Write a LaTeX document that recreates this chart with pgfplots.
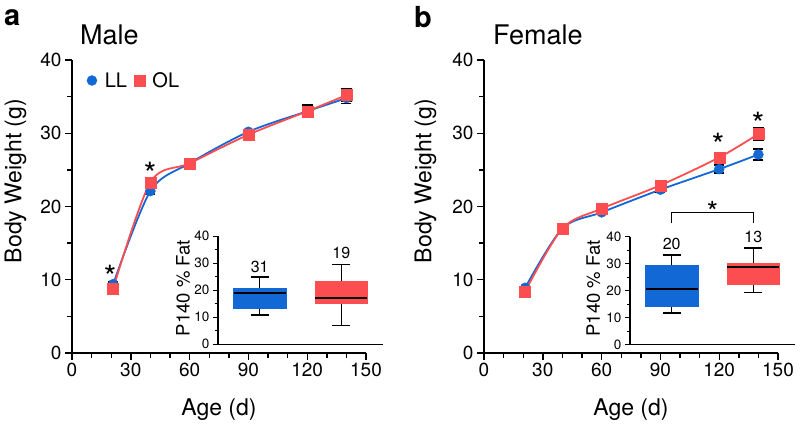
\documentclass[border=0pt]{standalone}
\usepackage{fontspec}
\setmainfont{TeX Gyre Heros}
\usepackage{pgfplots}
\pgfplotsset{compat=1.18}
\usepgfplotslibrary{statistics}

\definecolor{llblue}{RGB}{18,104,212}
\definecolor{olred}{RGB}{252,78,80}
\newcommand{\fs}[1]{\fontsize{#1bp}{#1bp}\selectfont}
\newcommand{\sig}[3][32]{\node[font=\fs{#1}, inner sep=0, anchor=base, yshift=-0.57*#1bp] at (axis cs:#2,#3) {*};}

\pgfplotsset{
  base/.style={scale only axis, axis lines=left, axis line style={-, line width=1.6bp},
    tick align=outside, tick style={black, line width=1.4bp},
    major tick length=7bp, minor tick length=5bp,
    /pgf/number format/assume math mode=true,
    tick label style={font=\fs{19}}, label style={font=\fs{23}}, clip=false},
  main/.style={base, width=294bp, height=293bp, xmin=0, xmax=150, ymin=0, ymax=40,
    xtick={0,30,...,150}, minor x tick num=2, ytick={0,10,...,40}, minor y tick num=1,
    xlabel={Age (d)}, ylabel={Body Weight (g)},
    xlabel style={at={(axis description cs:0.5,-0.215)}, anchor=base},
    legend image code/.code={\path (-3bp,0bp) (10bp,0bp);
      \draw[#1,only marks] plot coordinates {(0bp,0bp)};}},
  inset/.style={base, width=165bp, height=108bp, xmin=0.49, xmax=2.51, ymin=0, ymax=40,
    xtick=\empty, ytick={0,10,...,40}, minor y tick num=1,
    axis line style={-, line width=1.3bp}, tick style={line width=1.1bp},
    major tick length=5bp, minor tick length=3.5bp,
    tick label style={font=\fs{13.5}}, label style={font=\fs{18.5}},
    ylabel={P140 \% Fat},
    boxplot/draw direction=y,
    boxplot/every median/.style={black, line width=2bp},
    boxplot/every whisker/.style={black, line width=1.3bp},
    boxplot/box extend=0.64, boxplot/whisker extend=0.22},
  ll/.style={llblue, line width=1.8bp, smooth, mark=*, mark size=5bp,
    mark options={fill=llblue, draw=llblue, line width=0.4bp},
    error bars/.cd, y dir=both, y explicit, error bar style={black, line width=1.3bp},
    error mark options={rotate=90, mark size=5bp, black, line width=1.4bp}},
  ol/.style={olred, line width=1.8bp, smooth, mark=square*, mark size=5.5bp,
    mark options={fill=olred, draw=olred, line width=0.4bp},
    error bars/.cd, y dir=both, y explicit, error bar style={black, line width=1.3bp},
    error mark options={rotate=90, mark size=5.5bp, black, line width=1.4bp}},
}

\begin{document}
\begin{tikzpicture}
\useasboundingbox (0,0) rectangle (800bp,425bp);

% panel a: male
\node[anchor=base west, font=\fs{29}\bfseries, inner sep=0] at (4bp,399bp) {a};
\node[anchor=base west, font=\fs{27}, inner sep=0] at (80bp,380bp) {Male};
\begin{axis}[main, at={(72bp,72bp)}, anchor=south west,
    ylabel style={at={(axis description cs:-0.172,0.587)}, anchor=base},
    legend style={at={(axis cs:6,37.2)}, anchor=west, draw=none, fill=none,
      legend columns=2, font=\fs{20},
      /tikz/every even column/.append style={column sep=5bp}}]
\addplot[ll] coordinates {
  (21,9.4) +- (0,0.3)
  (40,22.1) +- (0,0.4)
  (60,25.9) +- (0,0.3)
  (90,30.2) +- (0,0.3)
  (120,33.0) +- (0,0.8)
  (140,34.8) +- (0,0.7)
};
\addlegendentry{LL}
\addplot[ol] coordinates {
  (21,8.8) +- (0,0.3)
  (40,23.3) +- (0,0.4)
  (60,25.9) +- (0,0.3)
  (90,29.8) +- (0,0.3)
  (120,33.0) +- (0,0.85)
  (140,35.2) +- (0,0.9)
};
\addlegendentry{OL}
\sig{19.4}{11.3}
\sig{39.8}{25.4}
\end{axis}

\begin{axis}[inset, at={(218bp,80.7bp)}, anchor=south west,
    ylabel style={at={(axis description cs:-0.172,0.52)}, anchor=base}]
\addplot[draw=llblue, fill=llblue, boxplot prepared={lower whisker=10.9, lower quartile=13.3,
  median=18.9, upper quartile=20.9, upper whisker=24.9, draw position=1}] coordinates {};
\addplot[draw=olred, fill=olred, boxplot prepared={lower whisker=7.0, lower quartile=15.2,
  median=17.1, upper quartile=23.2, upper whisker=29.6, draw position=2}] coordinates {};
\node[font=\fs{16}, inner sep=0] at (axis cs:1,28.8) {31};
\node[font=\fs{16}, inner sep=0] at (axis cs:2,34.0) {19};
\end{axis}

% panel b: female
\node[anchor=base west, font=\fs{29}\bfseries, inner sep=0] at (414bp,397bp) {b};
\node[anchor=base west, font=\fs{27}, inner sep=0] at (493bp,380bp) {Female};
\begin{axis}[main, at={(484bp,72bp)}, anchor=south west,
    ylabel style={at={(axis description cs:-0.179,0.587)}, anchor=base}]
\addplot[ll] coordinates {
  (21,8.9) +- (0,0.2)
  (40,17.0) +- (0,0.3)
  (60,19.2) +- (0,0.3)
  (90,22.3) +- (0,0.3)
  (120,25.1) +- (0,0.55)
  (140,27.1) +- (0,0.75)
};
\addplot[ol] coordinates {
  (21,8.4) +- (0,0.2)
  (40,17.0) +- (0,0.3)
  (60,19.7) +- (0,0.3)
  (90,22.9) +- (0,0.3)
  (120,26.7) +- (0,0.4)
  (140,29.9) +- (0,0.85)
};
\sig{119.4}{29.3}
\sig{139.8}{32.2}
\end{axis}

\begin{axis}[inset, at={(630bp,80.3bp)}, anchor=south west,
    ylabel style={at={(axis description cs:-0.182,0.52)}, anchor=base}]
\addplot[draw=llblue, fill=llblue, boxplot prepared={lower whisker=11.7, lower quartile=14.2,
  median=20.8, upper quartile=29.5, upper whisker=33.2, draw position=1}] coordinates {};
\addplot[draw=olred, fill=olred, boxplot prepared={lower whisker=19.3, lower quartile=22.4,
  median=28.6, upper quartile=30.3, upper whisker=35.8, draw position=2}] coordinates {};
\node[font=\fs{16}, inner sep=0] at (axis cs:1,37.2) {20};
\node[font=\fs{16}, inner sep=0] at (axis cs:2,40.0) {13};
\draw[line width=1.2bp] (axis cs:1,44.9) -- (axis cs:1,49) -- (axis cs:2,49) -- (axis cs:2,44.9);
\sig[29]{1.5}{51.5}
\end{axis}
\end{tikzpicture}
\end{document}
